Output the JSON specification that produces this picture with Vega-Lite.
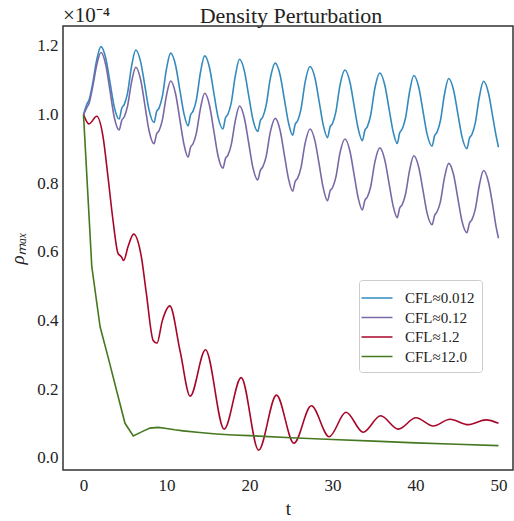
{
"$schema": "https://vega.github.io/schema/vega-lite/v6.json",
"width": 450, "height": 444,
"autosize": {"type": "none"},
"padding": {"left": 63, "top": 26, "right": 1, "bottom": 51},
"background": "white",
"config": {
 "view": {"stroke": "#333", "strokeWidth": 1.5},
 "axis": {"grid": false, "ticks": false, "domain": false, "labelFont": "Liberation Serif", "labelFontSize": 17, "labelColor": "#222", "titleFont": "Liberation Serif", "titleFontWeight": "normal", "titleColor": "#222", "titleFontSize": 19}
},
"datasets": {
"rho": [
{"series":"CFL≈0.012","t":0,"rho":1.000e-4},{"series":"CFL≈0.012","t":0.4,"rho":1.030e-4},{"series":"CFL≈0.012","t":0.7,"rho":1.045e-4},{"series":"CFL≈0.012","t":1.1,"rho":1.090e-4},{"series":"CFL≈0.012","t":1.6,"rho":1.160e-4},{"series":"CFL≈0.012","t":2.1,"rho":1.198e-4},
{"series":"CFL≈0.012","t":2.7,"rho":1.162e-4},{"series":"CFL≈0.012","t":3.2,"rho":1.093e-4},{"series":"CFL≈0.012","t":3.7,"rho":1.023e-4},{"series":"CFL≈0.012","t":4.3,"rho":0.987e-4},{"series":"CFL≈0.012","t":4.6,"rho":1.018e-4},{"series":"CFL≈0.012","t":4.9,"rho":1.029e-4},{"series":"CFL≈0.012","t":5.3,"rho":1.062e-4},{"series":"CFL≈0.012","t":5.8,"rho":1.142e-4},{"series":"CFL≈0.012","t":6.3,"rho":1.188e-4},
{"series":"CFL≈0.012","t":6.9,"rho":1.152e-4},{"series":"CFL≈0.012","t":7.4,"rho":1.083e-4},{"series":"CFL≈0.012","t":7.9,"rho":1.013e-4},{"series":"CFL≈0.012","t":8.5,"rho":0.977e-4},{"series":"CFL≈0.012","t":8.8,"rho":1.008e-4},{"series":"CFL≈0.012","t":9.1,"rho":1.019e-4},{"series":"CFL≈0.012","t":9.5,"rho":1.053e-4},{"series":"CFL≈0.012","t":10.0,"rho":1.133e-4},{"series":"CFL≈0.012","t":10.5,"rho":1.179e-4},
{"series":"CFL≈0.012","t":11.1,"rho":1.143e-4},{"series":"CFL≈0.012","t":11.6,"rho":1.073e-4},{"series":"CFL≈0.012","t":12.1,"rho":1.003e-4},{"series":"CFL≈0.012","t":12.6,"rho":0.967e-4},{"series":"CFL≈0.012","t":12.9,"rho":0.999e-4},{"series":"CFL≈0.012","t":13.2,"rho":1.010e-4},{"series":"CFL≈0.012","t":13.6,"rho":1.043e-4},{"series":"CFL≈0.012","t":14.1,"rho":1.124e-4},{"series":"CFL≈0.012","t":14.6,"rho":1.171e-4},
{"series":"CFL≈0.012","t":15.2,"rho":1.135e-4},{"series":"CFL≈0.012","t":15.7,"rho":1.064e-4},{"series":"CFL≈0.012","t":16.2,"rho":0.994e-4},{"series":"CFL≈0.012","t":16.8,"rho":0.958e-4},{"series":"CFL≈0.012","t":17.1,"rho":0.990e-4},{"series":"CFL≈0.012","t":17.4,"rho":1.001e-4},{"series":"CFL≈0.012","t":17.8,"rho":1.034e-4},{"series":"CFL≈0.012","t":18.3,"rho":1.114e-4},{"series":"CFL≈0.012","t":18.8,"rho":1.161e-4},
{"series":"CFL≈0.012","t":19.4,"rho":1.125e-4},{"series":"CFL≈0.012","t":19.9,"rho":1.056e-4},{"series":"CFL≈0.012","t":20.4,"rho":0.987e-4},{"series":"CFL≈0.012","t":21.0,"rho":0.951e-4},{"series":"CFL≈0.012","t":21.3,"rho":0.982e-4},{"series":"CFL≈0.012","t":21.6,"rho":0.993e-4},{"series":"CFL≈0.012","t":22.0,"rho":1.026e-4},{"series":"CFL≈0.012","t":22.5,"rho":1.104e-4},{"series":"CFL≈0.012","t":23.1,"rho":1.150e-4},
{"series":"CFL≈0.012","t":23.7,"rho":1.114e-4},{"series":"CFL≈0.012","t":24.2,"rho":1.045e-4},{"series":"CFL≈0.012","t":24.7,"rho":0.976e-4},{"series":"CFL≈0.012","t":25.2,"rho":0.940e-4},{"series":"CFL≈0.012","t":25.5,"rho":0.971e-4},{"series":"CFL≈0.012","t":25.8,"rho":0.982e-4},{"series":"CFL≈0.012","t":26.2,"rho":1.015e-4},{"series":"CFL≈0.012","t":26.7,"rho":1.094e-4},{"series":"CFL≈0.012","t":27.3,"rho":1.140e-4},
{"series":"CFL≈0.012","t":27.9,"rho":1.105e-4},{"series":"CFL≈0.012","t":28.4,"rho":1.037e-4},{"series":"CFL≈0.012","t":28.9,"rho":0.968e-4},{"series":"CFL≈0.012","t":29.4,"rho":0.933e-4},{"series":"CFL≈0.012","t":29.7,"rho":0.963e-4},{"series":"CFL≈0.012","t":30.0,"rho":0.974e-4},{"series":"CFL≈0.012","t":30.4,"rho":1.007e-4},{"series":"CFL≈0.012","t":30.9,"rho":1.085e-4},{"series":"CFL≈0.012","t":31.5,"rho":1.130e-4},
{"series":"CFL≈0.012","t":32.1,"rho":1.095e-4},{"series":"CFL≈0.012","t":32.6,"rho":1.027e-4},{"series":"CFL≈0.012","t":33.1,"rho":0.959e-4},{"series":"CFL≈0.012","t":33.6,"rho":0.924e-4},{"series":"CFL≈0.012","t":33.9,"rho":0.954e-4},{"series":"CFL≈0.012","t":34.2,"rho":0.965e-4},{"series":"CFL≈0.012","t":34.6,"rho":0.998e-4},{"series":"CFL≈0.012","t":35.1,"rho":1.076e-4},{"series":"CFL≈0.012","t":35.7,"rho":1.121e-4},
{"series":"CFL≈0.012","t":36.3,"rho":1.086e-4},{"series":"CFL≈0.012","t":36.8,"rho":1.019e-4},{"series":"CFL≈0.012","t":37.3,"rho":0.951e-4},{"series":"CFL≈0.012","t":37.8,"rho":0.916e-4},{"series":"CFL≈0.012","t":38.1,"rho":0.947e-4},{"series":"CFL≈0.012","t":38.4,"rho":0.958e-4},{"series":"CFL≈0.012","t":38.8,"rho":0.990e-4},{"series":"CFL≈0.012","t":39.3,"rho":1.068e-4},{"series":"CFL≈0.012","t":39.8,"rho":1.114e-4},
{"series":"CFL≈0.012","t":40.4,"rho":1.079e-4},{"series":"CFL≈0.012","t":40.9,"rho":1.011e-4},{"series":"CFL≈0.012","t":41.4,"rho":0.943e-4},{"series":"CFL≈0.012","t":42.0,"rho":0.908e-4},{"series":"CFL≈0.012","t":42.3,"rho":0.938e-4},{"series":"CFL≈0.012","t":42.6,"rho":0.949e-4},{"series":"CFL≈0.012","t":43.0,"rho":0.982e-4},{"series":"CFL≈0.012","t":43.5,"rho":1.060e-4},{"series":"CFL≈0.012","t":44.0,"rho":1.105e-4},
{"series":"CFL≈0.012","t":44.6,"rho":1.070e-4},{"series":"CFL≈0.012","t":45.1,"rho":1.003e-4},{"series":"CFL≈0.012","t":45.6,"rho":0.936e-4},{"series":"CFL≈0.012","t":46.2,"rho":0.901e-4},{"series":"CFL≈0.012","t":46.5,"rho":0.931e-4},{"series":"CFL≈0.012","t":46.8,"rho":0.942e-4},{"series":"CFL≈0.012","t":47.2,"rho":0.975e-4},{"series":"CFL≈0.012","t":47.7,"rho":1.052e-4},{"series":"CFL≈0.012","t":48.2,"rho":1.097e-4},
{"series":"CFL≈0.012","t":48.8,"rho":1.062e-4},{"series":"CFL≈0.012","t":49.3,"rho":0.995e-4},{"series":"CFL≈0.012","t":49.7,"rho":0.940e-4},{"series":"CFL≈0.012","t":50.0,"rho":0.905e-4},

{"series":"CFL≈0.12","t":0,"rho":1.000e-4},{"series":"CFL≈0.12","t":0.4,"rho":1.020e-4},{"series":"CFL≈0.12","t":0.7,"rho":1.035e-4},{"series":"CFL≈0.12","t":1.1,"rho":1.080e-4},{"series":"CFL≈0.12","t":1.6,"rho":1.145e-4},{"series":"CFL≈0.12","t":2.1,"rho":1.181e-4},
{"series":"CFL≈0.12","t":2.7,"rho":1.143e-4},{"series":"CFL≈0.12","t":3.2,"rho":1.068e-4},{"series":"CFL≈0.12","t":3.7,"rho":0.993e-4},{"series":"CFL≈0.12","t":4.3,"rho":0.955e-4},{"series":"CFL≈0.12","t":4.6,"rho":0.983e-4},{"series":"CFL≈0.12","t":4.9,"rho":0.993e-4},{"series":"CFL≈0.12","t":5.3,"rho":1.024e-4},{"series":"CFL≈0.12","t":5.8,"rho":1.096e-4},{"series":"CFL≈0.12","t":6.3,"rho":1.138e-4},
{"series":"CFL≈0.12","t":6.9,"rho":1.100e-4},{"series":"CFL≈0.12","t":7.4,"rho":1.027e-4},{"series":"CFL≈0.12","t":7.9,"rho":0.953e-4},{"series":"CFL≈0.12","t":8.5,"rho":0.915e-4},{"series":"CFL≈0.12","t":8.8,"rho":0.943e-4},{"series":"CFL≈0.12","t":9.1,"rho":0.953e-4},{"series":"CFL≈0.12","t":9.5,"rho":0.984e-4},{"series":"CFL≈0.12","t":10.0,"rho":1.056e-4},{"series":"CFL≈0.12","t":10.5,"rho":1.098e-4},
{"series":"CFL≈0.12","t":11.1,"rho":1.060e-4},{"series":"CFL≈0.12","t":11.6,"rho":0.987e-4},{"series":"CFL≈0.12","t":12.1,"rho":0.914e-4},{"series":"CFL≈0.12","t":12.6,"rho":0.876e-4},{"series":"CFL≈0.12","t":12.9,"rho":0.905e-4},{"series":"CFL≈0.12","t":13.2,"rho":0.915e-4},{"series":"CFL≈0.12","t":13.6,"rho":0.946e-4},{"series":"CFL≈0.12","t":14.1,"rho":1.019e-4},{"series":"CFL≈0.12","t":14.6,"rho":1.062e-4},
{"series":"CFL≈0.12","t":15.2,"rho":1.025e-4},{"series":"CFL≈0.12","t":15.7,"rho":0.953e-4},{"series":"CFL≈0.12","t":16.2,"rho":0.881e-4},{"series":"CFL≈0.12","t":16.8,"rho":0.844e-4},{"series":"CFL≈0.12","t":17.1,"rho":0.872e-4},{"series":"CFL≈0.12","t":17.4,"rho":0.882e-4},{"series":"CFL≈0.12","t":17.8,"rho":0.912e-4},{"series":"CFL≈0.12","t":18.3,"rho":0.983e-4},{"series":"CFL≈0.12","t":18.8,"rho":1.025e-4},
{"series":"CFL≈0.12","t":19.4,"rho":0.988e-4},{"series":"CFL≈0.12","t":19.9,"rho":0.918e-4},{"series":"CFL≈0.12","t":20.4,"rho":0.847e-4},{"series":"CFL≈0.12","t":21.0,"rho":0.810e-4},{"series":"CFL≈0.12","t":21.3,"rho":0.837e-4},{"series":"CFL≈0.12","t":21.6,"rho":0.848e-4},{"series":"CFL≈0.12","t":22.0,"rho":0.877e-4},{"series":"CFL≈0.12","t":22.5,"rho":0.948e-4},{"series":"CFL≈0.12","t":23.1,"rho":0.989e-4},
{"series":"CFL≈0.12","t":23.7,"rho":0.953e-4},{"series":"CFL≈0.12","t":24.2,"rho":0.883e-4},{"series":"CFL≈0.12","t":24.7,"rho":0.813e-4},{"series":"CFL≈0.12","t":25.2,"rho":0.777e-4},{"series":"CFL≈0.12","t":25.5,"rho":0.805e-4},{"series":"CFL≈0.12","t":25.8,"rho":0.815e-4},{"series":"CFL≈0.12","t":26.2,"rho":0.845e-4},{"series":"CFL≈0.12","t":26.7,"rho":0.916e-4},{"series":"CFL≈0.12","t":27.3,"rho":0.958e-4},
{"series":"CFL≈0.12","t":27.9,"rho":0.922e-4},{"series":"CFL≈0.12","t":28.4,"rho":0.854e-4},{"series":"CFL≈0.12","t":28.9,"rho":0.785e-4},{"series":"CFL≈0.12","t":29.4,"rho":0.749e-4},{"series":"CFL≈0.12","t":29.7,"rho":0.777e-4},{"series":"CFL≈0.12","t":30.0,"rho":0.787e-4},{"series":"CFL≈0.12","t":30.4,"rho":0.817e-4},{"series":"CFL≈0.12","t":30.9,"rho":0.888e-4},{"series":"CFL≈0.12","t":31.5,"rho":0.929e-4},
{"series":"CFL≈0.12","t":32.1,"rho":0.894e-4},{"series":"CFL≈0.12","t":32.6,"rho":0.826e-4},{"series":"CFL≈0.12","t":33.1,"rho":0.757e-4},{"series":"CFL≈0.12","t":33.6,"rho":0.722e-4},{"series":"CFL≈0.12","t":33.9,"rho":0.750e-4},{"series":"CFL≈0.12","t":34.2,"rho":0.760e-4},{"series":"CFL≈0.12","t":34.6,"rho":0.790e-4},{"series":"CFL≈0.12","t":35.1,"rho":0.861e-4},{"series":"CFL≈0.12","t":35.7,"rho":0.903e-4},
{"series":"CFL≈0.12","t":36.3,"rho":0.868e-4},{"series":"CFL≈0.12","t":36.8,"rho":0.802e-4},{"series":"CFL≈0.12","t":37.3,"rho":0.735e-4},{"series":"CFL≈0.12","t":37.8,"rho":0.700e-4},{"series":"CFL≈0.12","t":38.1,"rho":0.728e-4},{"series":"CFL≈0.12","t":38.4,"rho":0.738e-4},{"series":"CFL≈0.12","t":38.8,"rho":0.768e-4},{"series":"CFL≈0.12","t":39.3,"rho":0.839e-4},{"series":"CFL≈0.12","t":39.8,"rho":0.880e-4},
{"series":"CFL≈0.12","t":40.4,"rho":0.846e-4},{"series":"CFL≈0.12","t":40.9,"rho":0.780e-4},{"series":"CFL≈0.12","t":41.4,"rho":0.713e-4},{"series":"CFL≈0.12","t":42.0,"rho":0.679e-4},{"series":"CFL≈0.12","t":42.3,"rho":0.706e-4},{"series":"CFL≈0.12","t":42.6,"rho":0.717e-4},{"series":"CFL≈0.12","t":43.0,"rho":0.746e-4},{"series":"CFL≈0.12","t":43.5,"rho":0.817e-4},{"series":"CFL≈0.12","t":44.0,"rho":0.858e-4},
{"series":"CFL≈0.12","t":44.6,"rho":0.824e-4},{"series":"CFL≈0.12","t":45.1,"rho":0.757e-4},{"series":"CFL≈0.12","t":45.6,"rho":0.690e-4},{"series":"CFL≈0.12","t":46.2,"rho":0.656e-4},{"series":"CFL≈0.12","t":46.5,"rho":0.684e-4},{"series":"CFL≈0.12","t":46.8,"rho":0.694e-4},{"series":"CFL≈0.12","t":47.2,"rho":0.724e-4},{"series":"CFL≈0.12","t":47.7,"rho":0.795e-4},{"series":"CFL≈0.12","t":48.2,"rho":0.837e-4},
{"series":"CFL≈0.12","t":48.8,"rho":0.803e-4},{"series":"CFL≈0.12","t":49.3,"rho":0.737e-4},{"series":"CFL≈0.12","t":49.7,"rho":0.675e-4},{"series":"CFL≈0.12","t":50.0,"rho":0.640e-4},

{"series":"CFL≈1.2","t":0,"rho":1.000e-4},{"series":"CFL≈1.2","t":0.66,"rho":0.973e-4},{"series":"CFL≈1.2","t":1.6,"rho":0.995e-4},{"series":"CFL≈1.2","t":2.35,"rho":0.936e-4},{"series":"CFL≈1.2","t":2.95,"rho":0.819e-4},{"series":"CFL≈1.2","t":3.55,"rho":0.693e-4},{"series":"CFL≈1.2","t":4.16,"rho":0.596e-4},{"series":"CFL≈1.2","t":4.56,"rho":0.586e-4},{"series":"CFL≈1.2","t":4.84,"rho":0.575e-4},{"series":"CFL≈1.2","t":5.36,"rho":0.615e-4},{"series":"CFL≈1.2","t":6.05,"rho":0.652e-4},{"series":"CFL≈1.2","t":6.97,"rho":0.586e-4},{"series":"CFL≈1.2","t":7.57,"rho":0.480e-4},{"series":"CFL≈1.2","t":8.4,"rho":0.342e-4},{"series":"CFL≈1.2","t":8.85,"rho":0.334e-4},{"series":"CFL≈1.2","t":9.5,"rho":0.400e-4},{"series":"CFL≈1.2","t":10.4,"rho":0.443e-4},{"series":"CFL≈1.2","t":11.65,"rho":0.310e-4},{"series":"CFL≈1.2","t":12.85,"rho":0.180e-4},{"series":"CFL≈1.2","t":14.7,"rho":0.315e-4},{"series":"CFL≈1.2","t":16.95,"rho":0.084e-4},{"series":"CFL≈1.2","t":19.0,"rho":0.234e-4},{"series":"CFL≈1.2","t":21.1,"rho":0.023e-4},{"series":"CFL≈1.2","t":23.25,"rho":0.183e-4},{"series":"CFL≈1.2","t":25.35,"rho":0.043e-4},{"series":"CFL≈1.2","t":27.45,"rho":0.152e-4},{"series":"CFL≈1.2","t":29.6,"rho":0.062e-4},{"series":"CFL≈1.2","t":31.63,"rho":0.133e-4},{"series":"CFL≈1.2","t":33.7,"rho":0.075e-4},{"series":"CFL≈1.2","t":35.8,"rho":0.123e-4},{"series":"CFL≈1.2","t":37.93,"rho":0.084e-4},{"series":"CFL≈1.2","t":40.06,"rho":0.117e-4},{"series":"CFL≈1.2","t":42.14,"rho":0.093e-4},{"series":"CFL≈1.2","t":44.16,"rho":0.113e-4},{"series":"CFL≈1.2","t":46.36,"rho":0.097e-4},{"series":"CFL≈1.2","t":48.5,"rho":0.111e-4},{"series":"CFL≈1.2","t":50,"rho":0.101e-4},

{"series":"CFL≈12.0","t":0,"rho":1.000e-4},{"series":"CFL≈12.0","t":1,"rho":0.557e-4},{"series":"CFL≈12.0","t":2,"rho":0.382e-4},{"series":"CFL≈12.0","t":3,"rho":0.290e-4},{"series":"CFL≈12.0","t":4,"rho":0.195e-4},{"series":"CFL≈12.0","t":5,"rho":0.101e-4},{"series":"CFL≈12.0","t":6,"rho":0.064e-4},{"series":"CFL≈12.0","t":7,"rho":0.076e-4},{"series":"CFL≈12.0","t":8,"rho":0.087e-4},{"series":"CFL≈12.0","t":9,"rho":0.089e-4},{"series":"CFL≈12.0","t":10,"rho":0.086e-4},{"series":"CFL≈12.0","t":11,"rho":0.082e-4},{"series":"CFL≈12.0","t":12,"rho":0.079e-4},{"series":"CFL≈12.0","t":14,"rho":0.074e-4},{"series":"CFL≈12.0","t":16,"rho":0.070e-4},{"series":"CFL≈12.0","t":18,"rho":0.067e-4},{"series":"CFL≈12.0","t":20,"rho":0.065e-4},{"series":"CFL≈12.0","t":25,"rho":0.059e-4},{"series":"CFL≈12.0","t":30,"rho":0.054e-4},{"series":"CFL≈12.0","t":35,"rho":0.049e-4},{"series":"CFL≈12.0","t":40,"rho":0.044e-4},{"series":"CFL≈12.0","t":45,"rho":0.040e-4},{"series":"CFL≈12.0","t":50,"rho":0.036e-4}
],
"note": [{"label": "×10⁻⁴"}],
"heading": [{"label": "Density Perturbation"}]
},
"layer": [
 {"data": {"name": "rho"}, "transform": [{"filter": "datum.series !== 'CFL≈12.0'"}], "mark": {"type": "line", "interpolate": "monotone", "strokeWidth": 1.6},
  "encoding": {
   "x": {"field": "t", "type": "quantitative", "scale": {"domain": [-2.47, 51.75], "nice": false, "zero": false}, "axis": {"values": [0, 10, 20, 30, 40, 50], "title": "t", "labelPadding": 7, "titlePadding": 6}},
   "y": {"field": "rho", "type": "quantitative", "scale": {"domain": [-0.035e-4, 1.258e-4], "nice": false, "zero": false}, "axis": {"values": [0, 2e-5, 4e-5, 6e-5, 8e-5, 1e-4, 1.2e-4], "labelExpr": "format(datum.value*1e4, '.1f')", "title": "ρₘₐₓ", "titleFontStyle": "italic", "labelPadding": 5, "titlePadding": 9}},
   "color": {"field": "series", "type": "nominal", "scale": {"domain": ["CFL≈0.012", "CFL≈0.12", "CFL≈1.2", "CFL≈12.0"], "range": ["#348ABD", "#7A68A6", "#A60628", "#467821"]},
    "legend": {"title": null, "orient": "none", "legendX": 296, "legendY": 254, "symbolType": "M-1.55,0L1.55,0", "symbolSize": 400, "symbolStrokeWidth": 1.5, "labelFont": "Liberation Serif", "labelFontSize": 15, "labelColor": "#222", "labelOffset": 17, "rowPadding": 0.5, "padding": 7, "strokeColor": "#cccccc", "cornerRadius": 3, "fillColor": "white"}}
  }},
 {"data": {"name": "rho"}, "transform": [{"filter": "datum.series === 'CFL≈12.0'"}], "mark": {"type": "line", "strokeWidth": 1.6},
  "encoding": {
   "x": {"field": "t", "type": "quantitative"},
   "y": {"field": "rho", "type": "quantitative"},
   "color": {"field": "series", "type": "nominal"}
  }},
 {"data": {"name": "note"}, "mark": {"type": "text", "font": "Liberation Serif", "fontSize": 21, "fill": "#222", "align": "left", "baseline": "bottom", "dy": 0, "clip": false},
  "encoding": {"x": {"datum": -2.47}, "y": {"datum": 1.258e-4}, "text": {"field": "label"}}},
 {"data": {"name": "heading"}, "mark": {"type": "text", "font": "Liberation Serif", "fontSize": 22, "fill": "#222", "align": "center", "baseline": "alphabetic", "dy": -3, "clip": false},
  "encoding": {"x": {"datum": 25.0}, "y": {"datum": 1.258e-4}, "text": {"field": "label"}}}
]
}
